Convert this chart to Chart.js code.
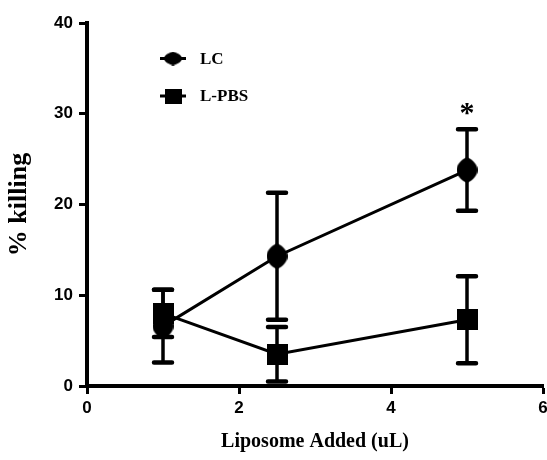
<!DOCTYPE html>
<html>
<head>
<meta charset="utf-8">
<script src="https://cdn.jsdelivr.net/npm/chart.js@4/dist/chart.umd.min.js"></script>
<style>
  html, body { margin: 0; padding: 0; background: #fff; }
  #wrap { width: 547px; height: 460px; }
</style>
</head>
<body>
<div id="wrap"><canvas id="myChart" width="547" height="460"></canvas></div>
<script>
// liposome volume on x, % killing on y
const doses = [1, 2.5, 5];
const lcMean = [6.6, 14.3, 23.8];
const lcErr = [4.0, 7.0, 4.5];
const pbsMean = [8.0, 3.5, 7.3];
const pbsErr = [2.6, 3.0, 4.8];
const seriesNames = ['LC', 'L-PBS'];
const xTicks = [0, 2, 4, 6];
const yTicks = [0, 10, 20, 30, 40];
const starMarks = [{ x: 5, y: 30.6, text: '*' }];

// marker shapes drawn onto small canvases
function diamondImg(w, h) {
    const c = document.createElement('canvas');
    c.width = w; c.height = h;
    const g = c.getContext('2d');
    g.fillStyle = '#000';
    g.beginPath();
    g.moveTo(w / 2, 0);
    g.bezierCurveTo(w * 0.8, h * 0.12, w, h * 0.3, w, h / 2);
    g.bezierCurveTo(w, h * 0.7, w * 0.8, h * 0.88, w / 2, h);
    g.bezierCurveTo(w * 0.2, h * 0.88, 0, h * 0.7, 0, h / 2);
    g.bezierCurveTo(0, h * 0.3, w * 0.2, h * 0.12, w / 2, 0);
    g.fill();
    return c;
}
function squareImg(w, h) {
    const c = document.createElement('canvas');
    c.width = w; c.height = h;
    const g = c.getContext('2d');
    g.fillStyle = '#000';
    g.fillRect(0, 0, w, h);
    return c;
}

const lcMarker = diamondImg(21, 26);
const pbsMarker = squareImg(21, 21);
const lcLegendMarker = diamondImg(18, 14);
const pbsLegendMarker = squareImg(17, 15);

const toPoints = (xs, ys) => xs.map((x, i) => ({ x: x, y: ys[i] }));

// error bars, asterisk and legend
const extras = {
    id: 'extras',
    beforeDatasetsDraw(chart) {
        const ctx = chart.ctx;
        const xs = chart.scales.x, ys = chart.scales.y;
        const sets = [[lcMean, lcErr], [pbsMean, pbsErr]];
        ctx.save();
        ctx.strokeStyle = '#000';
        sets.forEach(([m, e]) => {
            doses.forEach((d, i) => {
                const px = xs.getPixelForValue(d);
                const top = ys.getPixelForValue(m[i] + e[i]);
                const bot = ys.getPixelForValue(m[i] - e[i]);
                ctx.lineWidth = 3.5;
                ctx.lineCap = 'butt';
                ctx.beginPath();
                ctx.moveTo(px, top); ctx.lineTo(px, bot);
                ctx.stroke();
                ctx.lineWidth = 4.5;
                ctx.lineCap = 'round';
                ctx.beginPath();
                ctx.moveTo(px - 9, top); ctx.lineTo(px + 9, top);
                ctx.moveTo(px - 9, bot); ctx.lineTo(px + 9, bot);
                ctx.stroke();
            });
        });
        ctx.restore();
    },
    afterDraw(chart) {
        const ctx = chart.ctx;
        const xs = chart.scales.x, ys = chart.scales.y;
        ctx.save();
        ctx.fillStyle = '#000';
        ctx.textAlign = 'center';
        ctx.textBaseline = 'middle';
        ctx.font = 'bold 30px "Liberation Serif", serif';
        starMarks.forEach(s => {
            ctx.fillText(s.text, xs.getPixelForValue(s.x), ys.getPixelForValue(s.y) + 6);
        });

        const rows = [[lcLegendMarker, 58.5], [pbsLegendMarker, 96]];
        ctx.font = 'bold 17px "Liberation Serif", serif';
        ctx.textAlign = 'left';
        rows.forEach(([img, y], i) => {
            ctx.lineWidth = 3;
            ctx.strokeStyle = '#000';
            ctx.beginPath();
            ctx.moveTo(160, y); ctx.lineTo(186, y);
            ctx.stroke();
            ctx.drawImage(img, 173 - img.width / 2, y - img.height / 2);
            ctx.fillText(seriesNames[i], 200, y + 1);
        });
        ctx.restore();
    }
};

const tickFont = { family: '"Liberation Sans", Arial, sans-serif', size: 17, weight: 'bold' };

new Chart(document.getElementById('myChart'), {
    type: 'line',
    data: {
        datasets: [
            {
                label: seriesNames[0],
                data: toPoints(doses, lcMean),
                borderColor: '#000',
                borderWidth: 3,
                pointStyle: lcMarker,
                pointRadius: 12,
                clip: false
            },
            {
                label: seriesNames[1],
                data: toPoints(doses, pbsMean),
                borderColor: '#000',
                borderWidth: 3,
                pointStyle: pbsMarker,
                pointRadius: 12,
                clip: false
            }
        ]
    },
    options: {
        responsive: false,
        animation: false,
        layout: {
            autoPadding: false,
            padding: { left: 0, right: 4, top: 23, bottom: 0 }
        },
        plugins: { legend: { display: false }, tooltip: { enabled: false } },
        scales: {
            x: {
                type: 'linear',
                min: 0,
                max: 6,
                afterFit: s => { s.height = 74; s.paddingLeft = 0; s.paddingRight = 0; },
                afterBuildTicks: s => { s.ticks = xTicks.map(v => ({ value: v })); },
                border: { color: '#000', width: 4 },
                grid: { drawOnChartArea: false, color: '#000', tickLength: 8, tickWidth: 3 },
                ticks: { color: '#000', font: tickFont, padding: 4, maxRotation: 0 },
                title: {
                    display: true,
                    text: 'Liposome Added (uL)',
                    color: '#000',
                    font: { family: '"Liberation Serif", "Times New Roman", serif', size: 20, weight: 'bold' },
                    padding: { top: 0, bottom: 6 }
                }
            },
            y: {
                min: 0,
                max: 40,
                afterFit: s => { s.width = 87; },
                afterBuildTicks: s => { s.ticks = yTicks.map(v => ({ value: v })); },
                border: { color: '#000', width: 4 },
                grid: { drawOnChartArea: false, color: '#000', tickLength: 8, tickWidth: 3 },
                ticks: { color: '#000', font: tickFont, padding: 6 },
                title: {
                    display: true,
                    text: '% killing',
                    color: '#000',
                    font: { family: '"Liberation Serif", "Times New Roman", serif', size: 26, weight: 'bold' },
                    padding: { top: 4, bottom: 0 }
                }
            }
        }
    },
    plugins: [extras]
});
</script>
</body>
</html>
